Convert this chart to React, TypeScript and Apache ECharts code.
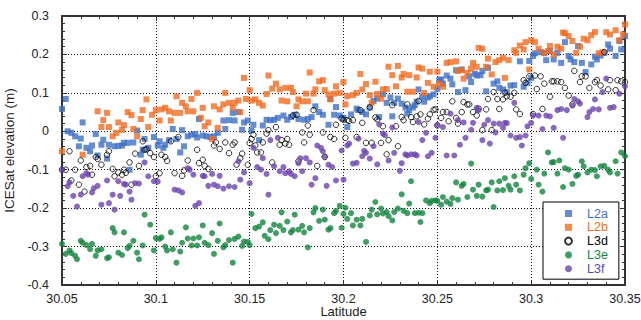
import React, { useEffect, useRef } from "react";
import * as echarts from "echarts";

const X_TICKS_MIN = 30.05;
const X_TICKS_MAX = 30.35;
const Y_MIN = -0.4;
const Y_MAX = 0.3;

const L2A: [number, number][] = [
  [30.050,0.058],[30.052,0.084],[30.053,0.000],[30.055,-0.004],[30.057,-0.013],[30.059,-0.039],[30.060,-0.019],[30.061,0.023],[30.063,-0.043],[30.065,-0.052],[30.066,-0.037],[30.068,-0.007],[30.069,-0.063],[30.071,-0.035],[30.072,-0.022],[30.074,-0.071],[30.075,-0.035],[30.078,-0.039],[30.080,-0.038],[30.082,-0.037],[30.083,-0.030],[30.085,-0.030],[30.086,-0.100],[30.088,-0.029],[30.090,0.002],[30.092,-0.061],[30.093,-0.048],[30.094,-0.020],[30.096,-0.043],[30.099,-0.015],
  [30.101,-0.037],[30.102,-0.026],[30.104,-0.043],[30.105,-0.035],[30.107,-0.023],[30.109,0.006],[30.111,-0.020],[30.113,-0.055],[30.114,0.003],[30.115,-0.039],[30.117,-0.013],[30.119,-0.009],[30.121,-0.007],[30.122,-0.016],[30.123,0.032],[30.125,-0.011],[30.127,-0.013],[30.129,-0.015],[30.131,-0.013],[30.133,-0.004],[30.136,0.028],[30.137,0.006],[30.139,0.029],[30.141,0.048],[30.142,0.028],[30.144,0.050],[30.146,0.004],[30.147,0.023],[30.149,0.028],
  [30.151,0.002],[30.152,0.017],[30.155,-0.023],[30.157,0.015],[30.159,0.030],[30.161,0.029],[30.163,0.030],[30.165,0.035],[30.168,0.041],[30.170,0.030],[30.172,0.037],[30.174,0.043],[30.176,0.032],[30.179,0.030],[30.181,0.032],[30.183,0.037],[30.185,0.065],[30.187,0.050],[30.189,0.043],[30.192,0.017],[30.193,0.084],[30.195,0.043],[30.196,0.063],[30.198,0.041],[30.200,0.035],
  [30.202,0.011],[30.204,0.044],[30.207,0.059],[30.208,0.055],[30.210,0.050],[30.212,0.044],[30.214,0.062],[30.216,0.079],[30.218,0.085],[30.219,0.037],[30.221,0.096],[30.223,0.074],[30.225,0.088],[30.226,0.039],[30.227,0.074],[30.229,0.085],[30.231,0.072],[30.233,0.062],[30.234,0.046],[30.235,0.055],[30.237,0.062],[30.238,0.068],[30.239,0.077],[30.240,0.109],[30.242,0.091],[30.243,0.077],[30.245,0.088],[30.246,0.091],[30.248,0.096],
  [30.250,0.111],[30.251,0.133],[30.252,0.135],[30.253,0.124],[30.255,0.145],[30.257,0.137],[30.258,0.122],[30.260,0.159],[30.261,0.102],[30.263,0.161],[30.265,0.107],[30.267,0.143],[30.268,0.128],[30.270,0.150],[30.271,0.145],[30.273,0.146],[30.274,0.157],[30.276,0.104],[30.277,0.165],[30.280,0.124],[30.282,0.130],[30.283,0.113],[30.285,0.109],[30.287,0.102],[30.289,0.119],[30.291,0.120],[30.294,0.182],[30.296,0.116],[30.298,0.126],[30.299,0.183],[30.300,0.139],
  [30.301,0.196],[30.302,0.203],[30.305,0.206],[30.307,0.204],[30.308,0.185],[30.310,0.209],[30.312,0.187],[30.314,0.204],[30.316,0.178],[30.318,0.232],[30.320,0.196],[30.321,0.187],[30.323,0.180],[30.325,0.222],[30.327,0.178],[30.329,0.154],[30.332,0.174],[30.334,0.194],[30.335,0.187],[30.337,0.197],[30.339,0.204],[30.341,0.226],[30.342,0.215],[30.345,0.196],[30.347,0.235],[30.348,0.213],[30.350,0.248],
];

const L2B: [number, number][] = [
  [30.050,-0.052],[30.061,-0.061],[30.069,0.052],[30.071,0.011],[30.072,0.029],[30.074,0.048],[30.075,0.011],[30.077,-0.013],[30.079,-0.004],[30.080,0.023],[30.082,0.004],[30.083,0.016],[30.085,0.050],[30.087,0.042],[30.088,0.006],[30.090,-0.013],[30.092,0.032],[30.093,0.055],[30.095,0.083],[30.096,0.011],[30.098,0.043],[30.100,0.055],
  [30.102,0.028],[30.103,0.057],[30.105,0.061],[30.107,0.052],[30.108,0.028],[30.110,0.048],[30.111,0.091],[30.113,0.048],[30.114,0.074],[30.116,0.065],[30.117,0.052],[30.119,0.084],[30.120,0.052],[30.122,0.100],[30.124,0.035],[30.125,0.061],[30.126,0.013],[30.128,0.023],[30.130,-0.020],[30.131,0.065],[30.133,0.009],[30.134,0.057],[30.136,0.070],[30.137,0.100],[30.139,0.074],[30.141,0.061],[30.142,0.074],[30.144,0.080],[30.145,0.050],[30.147,0.139],[30.148,0.084],[30.150,0.107],
  [30.151,0.080],[30.153,0.083],[30.155,0.074],[30.157,0.067],[30.159,0.097],[30.160,0.145],[30.162,0.111],[30.164,0.124],[30.166,0.109],[30.167,0.080],[30.169,0.113],[30.170,0.078],[30.172,0.113],[30.173,0.102],[30.175,0.065],[30.176,0.083],[30.178,0.078],[30.180,0.098],[30.181,0.078],[30.182,0.153],[30.184,0.098],[30.185,0.109],[30.187,0.130],[30.189,0.133],[30.190,0.107],[30.192,0.096],[30.193,0.083],[30.195,0.098],[30.196,0.117],[30.198,0.100],[30.200,0.128],
  [30.201,0.070],[30.202,0.091],[30.205,0.094],[30.207,0.100],[30.209,0.149],[30.210,0.109],[30.212,0.123],[30.214,0.094],[30.215,0.074],[30.217,0.129],[30.218,0.097],[30.220,0.085],[30.221,0.109],[30.223,0.110],[30.224,0.168],[30.226,0.146],[30.228,0.117],[30.229,0.170],[30.231,0.140],[30.232,0.149],[30.234,0.103],[30.235,0.146],[30.237,0.103],[30.239,0.140],[30.240,0.166],[30.242,0.163],[30.243,0.100],[30.245,0.126],[30.246,0.155],[30.248,0.116],[30.250,0.155],
  [30.251,0.124],[30.253,0.116],[30.255,0.178],[30.257,0.180],[30.260,0.182],[30.261,0.157],[30.263,0.159],[30.264,0.137],[30.266,0.152],[30.268,0.163],[30.269,0.178],[30.271,0.168],[30.272,0.217],[30.274,0.215],[30.276,0.168],[30.277,0.189],[30.279,0.148],[30.281,0.180],[30.283,0.185],[30.285,0.191],[30.286,0.139],[30.288,0.185],[30.291,0.211],[30.292,0.204],[30.294,0.223],[30.296,0.213],[30.297,0.232],[30.299,0.161],[30.300,0.237],
  [30.302,0.232],[30.304,0.215],[30.307,0.203],[30.309,0.209],[30.310,0.222],[30.312,0.200],[30.314,0.220],[30.316,0.215],[30.317,0.257],[30.318,0.255],[30.320,0.248],[30.322,0.235],[30.324,0.204],[30.326,0.220],[30.328,0.241],[30.330,0.237],[30.332,0.250],[30.334,0.258],[30.336,0.203],[30.338,0.206],[30.340,0.258],[30.342,0.252],[30.345,0.263],[30.347,0.237],[30.349,0.252],[30.350,0.278],
];

const L3D: [number, number][] = [
  [30.050,-0.100],[30.052,-0.100],[30.054,-0.052],[30.055,-0.128],[30.057,-0.100],[30.059,-0.139],[30.060,-0.076],[30.062,-0.157],[30.063,-0.093],[30.065,-0.090],[30.066,-0.113],[30.068,-0.067],[30.069,-0.072],[30.071,-0.087],[30.074,-0.061],[30.075,-0.052],[30.077,-0.098],[30.078,-0.117],[30.080,-0.107],[30.082,-0.113],[30.083,-0.100],[30.084,-0.108],[30.086,-0.081],[30.087,-0.139],[30.089,-0.058],[30.091,-0.090],[30.093,-0.026],[30.094,-0.048],[30.095,-0.047],[30.097,-0.057],[30.099,-0.067],[30.100,-0.117],
  [30.102,-0.109],[30.103,-0.061],[30.105,-0.067],[30.106,-0.077],[30.108,-0.026],[30.110,-0.109],[30.112,-0.015],[30.114,-0.116],[30.115,-0.102],[30.117,-0.076],[30.122,-0.048],[30.123,-0.083],[30.125,-0.074],[30.126,-0.090],[30.128,-0.098],[30.131,-0.037],[30.132,-0.029],[30.134,-0.046],[30.137,-0.029],[30.139,-0.057],[30.141,-0.035],[30.142,-0.029],[30.143,-0.087],[30.145,-0.070],[30.146,-0.058],[30.149,-0.087],[30.150,-0.031],
  [30.151,-0.020],[30.152,-0.009],[30.153,-0.037],[30.154,-0.055],[30.156,-0.055],[30.157,-0.029],[30.159,-0.006],[30.160,0.003],[30.162,-0.081],[30.164,0.011],[30.166,-0.035],[30.167,-0.023],[30.169,-0.032],[30.170,-0.020],[30.171,-0.035],[30.173,0.041],[30.175,0.043],[30.176,-0.078],[30.178,-0.003],[30.179,-0.029],[30.181,0.015],[30.182,-0.009],[30.184,0.055],[30.186,-0.090],[30.189,-0.003],[30.190,-0.067],[30.193,-0.015],[30.195,-0.020],[30.196,0.017],[30.199,0.033],[30.200,0.030],
  [30.201,-0.017],[30.202,0.029],[30.203,0.027],[30.205,0.029],[30.207,-0.015],[30.209,0.055],[30.210,0.022],[30.212,-0.030],[30.214,0.062],[30.215,-0.030],[30.217,0.036],[30.218,0.031],[30.220,-0.030],[30.221,0.013],[30.223,-0.060],[30.224,-0.023],[30.226,0.068],[30.228,0.013],[30.229,-0.039],[30.231,0.037],[30.232,0.029],[30.234,0.070],[30.236,0.037],[30.237,0.024],[30.239,0.039],[30.240,0.079],[30.241,0.044],[30.243,0.018],[30.245,0.033],[30.246,0.044],[30.248,0.056],
  [30.249,0.057],[30.250,0.015],[30.252,0.035],[30.253,0.050],[30.255,0.050],[30.256,0.026],[30.258,0.078],[30.260,0.035],[30.261,0.020],[30.263,0.050],[30.264,0.076],[30.266,0.070],[30.267,0.070],[30.269,0.050],[30.271,0.041],[30.272,0.059],[30.274,0.003],[30.276,0.057],[30.277,0.084],[30.279,0.003],[30.280,0.102],[30.282,0.084],[30.283,0.058],[30.285,0.083],[30.286,0.100],[30.287,0.091],[30.289,0.090],[30.291,0.100],[30.292,0.057],[30.294,0.045],[30.296,0.133],[30.297,0.126],[30.299,0.143],
  [30.301,0.045],[30.302,0.145],[30.303,0.110],[30.305,0.143],[30.306,0.058],[30.307,0.124],[30.310,0.090],[30.311,0.130],[30.312,0.130],[30.314,0.130],[30.316,0.128],[30.318,0.113],[30.320,0.093],[30.322,0.070],[30.323,0.157],[30.326,0.128],[30.327,0.143],[30.329,0.143],[30.331,0.113],[30.334,0.128],[30.335,0.133],[30.337,0.119],[30.339,0.206],[30.341,0.109],[30.342,0.133],[30.345,0.107],[30.346,0.133],[30.348,0.130],[30.350,0.128],
];

const L3E: [number, number][] = [
  [30.050,-0.293],[30.052,-0.319],[30.054,-0.310],[30.055,-0.317],[30.057,-0.324],[30.058,-0.333],[30.060,-0.285],[30.061,-0.290],[30.063,-0.296],[30.065,-0.307],[30.066,-0.293],[30.068,-0.324],[30.069,-0.310],[30.071,-0.307],[30.074,-0.330],[30.075,-0.328],[30.077,-0.252],[30.078,-0.263],[30.080,-0.316],[30.082,-0.322],[30.083,-0.263],[30.085,-0.304],[30.086,-0.298],[30.088,-0.285],[30.090,-0.316],[30.091,-0.333],[30.093,-0.297],[30.094,-0.217],[30.097,-0.243],[30.099,-0.310],[30.100,-0.278],
  [30.102,-0.280],[30.103,-0.276],[30.105,-0.300],[30.106,-0.310],[30.108,-0.263],[30.109,-0.307],[30.111,-0.342],[30.113,-0.313],[30.114,-0.290],[30.116,-0.250],[30.117,-0.279],[30.119,-0.297],[30.120,-0.279],[30.122,-0.297],[30.123,-0.276],[30.125,-0.245],[30.126,-0.290],[30.128,-0.296],[30.130,-0.265],[30.131,-0.319],[30.133,-0.285],[30.134,-0.240],[30.136,-0.302],[30.137,-0.296],[30.139,-0.283],[30.141,-0.342],[30.142,-0.280],[30.144,-0.274],[30.146,-0.298],[30.147,-0.287],[30.149,-0.288],[30.150,-0.296],[30.151,-0.215],
  [30.153,-0.252],[30.155,-0.248],[30.157,-0.237],[30.158,-0.272],[30.160,-0.281],[30.161,-0.257],[30.163,-0.243],[30.164,-0.265],[30.166,-0.246],[30.167,-0.211],[30.168,-0.257],[30.170,-0.235],[30.172,-0.263],[30.173,-0.257],[30.174,-0.217],[30.176,-0.256],[30.178,-0.246],[30.179,-0.263],[30.181,-0.302],[30.182,-0.252],[30.184,-0.211],[30.185,-0.200],[30.187,-0.233],[30.189,-0.204],[30.190,-0.230],[30.192,-0.256],[30.193,-0.252],[30.195,-0.213],[30.196,-0.207],[30.198,-0.194],
  [30.199,-0.251],[30.200,-0.215],[30.201,-0.199],[30.202,-0.228],[30.204,-0.213],[30.205,-0.245],[30.207,-0.230],[30.209,-0.245],[30.210,-0.228],[30.212,-0.288],[30.214,-0.219],[30.215,-0.204],[30.217,-0.184],[30.218,-0.216],[30.220,-0.201],[30.221,-0.214],[30.223,-0.210],[30.224,-0.221],[30.226,-0.232],[30.227,-0.210],[30.229,-0.201],[30.231,-0.164],[30.232,-0.207],[30.234,-0.213],[30.235,-0.188],[30.236,-0.130],[30.238,-0.213],[30.240,-0.212],[30.241,-0.236],[30.242,-0.213],[30.244,-0.180],[30.246,-0.187],[30.247,-0.181],[30.249,-0.180],
  [30.250,-0.181],[30.252,-0.191],[30.253,-0.171],[30.255,-0.183],[30.257,-0.189],[30.258,-0.174],[30.260,-0.133],[30.261,-0.178],[30.263,-0.142],[30.264,-0.137],[30.266,-0.171],[30.268,-0.084],[30.269,-0.152],[30.271,-0.168],[30.272,-0.139],[30.274,-0.170],[30.276,-0.154],[30.277,-0.152],[30.279,-0.133],[30.280,-0.197],[30.282,-0.154],[30.283,-0.130],[30.285,-0.153],[30.286,-0.122],[30.288,-0.142],[30.289,-0.152],[30.291,-0.117],[30.292,-0.139],[30.294,-0.154],[30.296,-0.113],[30.297,-0.096],[30.299,-0.083],[30.300,-0.124],
  [30.303,-0.100],[30.304,-0.139],[30.306,-0.157],[30.307,-0.110],[30.309,-0.055],[30.311,-0.081],[30.312,-0.080],[30.314,-0.110],[30.315,-0.076],[30.317,-0.145],[30.318,-0.096],[30.320,-0.100],[30.322,-0.137],[30.324,-0.116],[30.325,-0.113],[30.327,-0.078],[30.328,-0.091],[30.330,-0.107],[30.332,-0.100],[30.334,-0.101],[30.335,-0.117],[30.337,-0.091],[30.339,-0.090],[30.341,-0.100],[30.342,-0.107],[30.345,-0.078],[30.346,-0.110],[30.348,-0.055],[30.350,-0.065],
];

const L3F: [number, number][] = [
  [30.050,-0.100],[30.053,-0.143],[30.054,-0.133],[30.056,-0.168],[30.058,-0.196],[30.060,-0.165],[30.061,-0.117],[30.063,-0.109],[30.064,-0.113],[30.066,-0.159],[30.067,-0.148],[30.069,-0.142],[30.071,-0.191],[30.074,-0.128],[30.075,-0.187],[30.077,-0.165],[30.078,-0.204],[30.080,-0.130],[30.081,-0.168],[30.083,-0.137],[30.084,-0.139],[30.086,-0.157],[30.087,-0.178],[30.089,-0.135],[30.091,-0.136],[30.094,-0.081],[30.096,-0.117],[30.099,-0.130],[30.101,-0.131],
  [30.110,-0.152],[30.112,-0.154],[30.114,-0.159],[30.117,-0.096],[30.118,-0.100],[30.120,-0.113],[30.121,-0.194],[30.123,-0.187],[30.125,-0.116],[30.126,-0.117],[30.128,-0.142],[30.130,-0.111],[30.131,-0.139],[30.133,-0.143],[30.134,-0.116],[30.136,-0.149],[30.139,-0.143],[30.142,-0.145],[30.144,-0.078],[30.145,-0.126],[30.147,-0.107],[30.150,-0.135],
  [30.152,-0.043],[30.154,-0.093],[30.156,-0.100],[30.157,-0.070],[30.159,-0.111],[30.160,-0.165],[30.161,-0.023],[30.163,-0.091],[30.165,-0.017],[30.166,-0.104],[30.168,-0.093],[30.169,-0.109],[30.171,-0.104],[30.172,-0.111],[30.174,-0.117],[30.176,-0.083],[30.177,-0.070],[30.178,-0.104],[30.180,-0.070],[30.182,-0.081],[30.183,-0.139],[30.185,-0.122],[30.186,-0.037],[30.188,-0.043],[30.189,-0.052],[30.190,-0.065],[30.191,-0.142],[30.192,-0.087],[30.194,-0.093],[30.196,-0.128],[30.199,-0.050],
  [30.200,-0.126],[30.202,-0.037],[30.203,-0.032],[30.205,-0.084],[30.207,-0.082],[30.208,-0.019],[30.210,-0.065],[30.211,-0.051],[30.212,-0.056],[30.214,-0.071],[30.216,-0.039],[30.218,-0.086],[30.219,0.018],[30.221,-0.006],[30.222,-0.010],[30.224,-0.076],[30.226,0.010],[30.227,-0.056],[30.230,-0.103],[30.231,-0.083],[30.233,-0.060],[30.234,-0.063],[30.236,-0.060],[30.238,-0.060],[30.239,-0.063],[30.240,0.024],[30.242,-0.023],[30.244,-0.004],[30.245,-0.065],[30.247,-0.056],[30.249,-0.017],[30.250,0.017],
  [30.253,0.011],[30.255,-0.063],[30.257,0.046],[30.259,-0.063],[30.261,0.029],[30.262,-0.035],[30.264,0.023],[30.265,-0.017],[30.268,0.004],[30.269,0.022],[30.271,0.061],[30.272,0.055],[30.274,-0.023],[30.275,0.017],[30.277,0.029],[30.278,-0.032],[30.280,0.020],[30.281,-0.003],[30.283,0.020],[30.285,0.009],[30.286,0.022],[30.287,0.021],[30.289,-0.011],[30.291,0.074],[30.292,-0.017],[30.294,-0.015],[30.295,-0.037],[30.297,-0.011],[30.298,0.013],[30.300,0.022],[30.301,0.041],
  [30.304,0.041],[30.306,0.006],[30.308,0.041],[30.310,0.039],[30.312,0.009],[30.314,0.055],[30.316,0.058],[30.317,-0.017],[30.319,0.055],[30.322,0.067],[30.323,0.084],[30.325,0.078],[30.326,0.072],[30.330,0.037],[30.331,0.050],[30.333,0.058],[30.334,0.083],[30.336,0.057],[30.338,0.102],[30.340,0.137],[30.342,0.061],[30.344,0.063],[30.347,0.098],[30.350,0.117],
];

const SERIES_NAMES = ["L2a", "L2b", "L3d", "L3e", "L3f"];
const COLORS = ["#3f6fc6", "#f26a21", "#000000", "#13853f", "#6a43ad"];

const FONT = "Liberation Sans, Arial, Helvetica, sans-serif";
const AXIS_COLOR = "#333";

export default function App() {
  const ref = useRef<HTMLDivElement>(null);
  useEffect(() => {
    if (!ref.current) return;
    const chart = echarts.init(ref.current, undefined, { renderer: "svg" });
    const fmtX = (v: number) => String(Math.round(v * 100) / 100);
    const fmtY = (v: number) => {
      const r = Math.round(v * 10) / 10;
      return r === 0 ? "0" : String(r);
    };
    const common = {
      type: "value",
      axisLine: { show: true, onZero: false, lineStyle: { color: AXIS_COLOR, width: 2 } },
      axisTick: { show: true, inside: true, length: 5, lineStyle: { color: AXIS_COLOR, width: 1 } },
      minorTick: { show: true, splitNumber: 5, length: 3, lineStyle: { color: AXIS_COLOR, width: 1 } },
    };
    const xBase = { ...common, min: X_TICKS_MIN, max: X_TICKS_MAX, interval: 0.05 };
    const yBase = { ...common, min: Y_MIN, max: Y_MAX, interval: 0.1 };
    const splitLine = { show: true, lineStyle: { color: "#111", width: 1, type: [1, 2] } };
    const data = [L2A, L2B, L3D, L3E, L3F];
    const series = data.map((d, i) => {
      const isSquare = i < 2;
      const isOpen = i === 2;
      return {
        name: SERIES_NAMES[i],
        type: "scatter",
        data: d,
        symbol: isSquare ? "rect" : "circle",
        symbolSize: isSquare ? 6 : isOpen ? 5.5 : 6,
        itemStyle: isOpen
          ? { color: "rgba(255,255,255,0)", borderColor: "#000", borderWidth: 1 }
          : { color: COLORS[i] },
        z: 2 + i * 0.01,
      };
    });
    chart.setOption({
      animation: false,
      backgroundColor: "#fff",
      textStyle: { fontFamily: FONT },
      grid: { left: 62, right: 16, top: 16, bottom: 35, containLabel: false, outerBoundsMode: "none" },
      xAxis: [
        {
          ...xBase,
          position: "bottom",
          splitLine,
          axisLabel: { formatter: fmtX, color: "#222", fontSize: 12.5, margin: 7, fontFamily: FONT },
          name: "Latitude",
          nameLocation: "middle",
          nameMoveOverlap: false,
          nameGap: 20,
          nameTextStyle: { fontSize: 13, color: "#222", fontFamily: FONT, verticalAlign: "top" },
        },
        { ...xBase, position: "top", splitLine: { show: false }, axisLabel: { show: false } },
      ],
      yAxis: [
        {
          ...yBase,
          position: "left",
          splitLine,
          axisLabel: { formatter: fmtY, color: "#222", fontSize: 12.5, margin: 13, fontFamily: FONT },
          name: "ICESat elevation (m)",
          nameLocation: "middle",
          nameGap: 40,
          nameTextStyle: { fontSize: 13.5, color: "#222", fontFamily: FONT },
        },
        { ...yBase, position: "right", splitLine: { show: false }, axisLabel: { show: false } },
      ],
      legend: {
        orient: "vertical",
        left: 543,
        top: 202,
        padding: [5, 11, 4, 21],
        itemWidth: 7,
        itemHeight: 7,
        itemGap: 0.8,
        backgroundColor: "#fff",
        borderColor: "#000",
        borderWidth: 1,
        textStyle: { fontSize: 12.5, lineHeight: 12.5, fontFamily: FONT, padding: [0, 0, 0, 10] },
        data: SERIES_NAMES.map((n, i) => ({
          name: n,
          icon: i < 2 ? "rect" : "circle",
          textStyle: { color: COLORS[i] },
        })),
      },
      series,
    });
    return () => chart.dispose();
  }, []);
  return (
    <div
      ref={ref}
      style={{ position: "fixed", left: 0, top: 0, width: 641, height: 320 }}
    />
  );
}
